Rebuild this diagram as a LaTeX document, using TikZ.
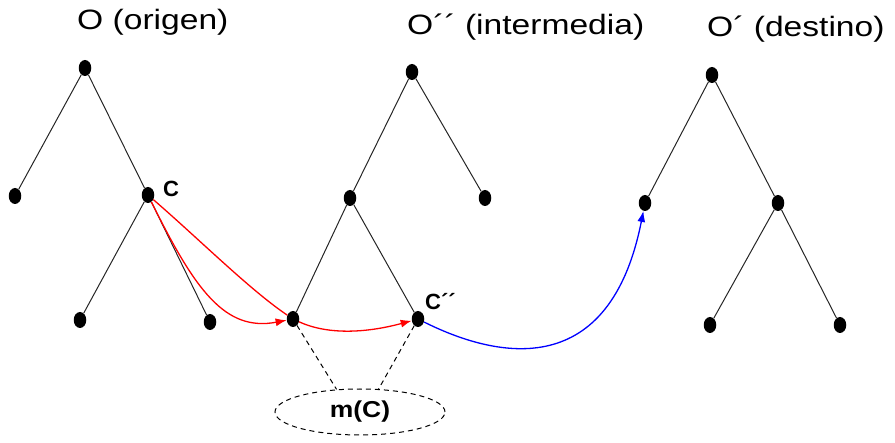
\documentclass[tikz,border=0pt]{standalone}
\usepackage{fontspec}
\setmainfont{Liberation Sans}
\usetikzlibrary{shapes.geometric,arrows.meta}
\begin{document}
\begin{tikzpicture}[x=1pt,y=-1pt,
 dot/.style={ellipse,fill=black,minimum width=12.5pt,minimum height=16pt,inner sep=0pt},
 treeline/.style={draw=black!85,line width=1pt},
 title/.style={anchor=base west,inner sep=0pt,font=\fontsize{28}{30}\selectfont},
 lbl/.style={anchor=base west,inner sep=0pt,font=\fontsize{22}{24}\selectfont\bfseries},
 redarr/.style={draw=red,line width=1.3pt,-{Latex[length=11pt,width=8pt]}},
 bluearr/.style={draw=blue,line width=1.3pt,-{Latex[length=11pt,width=8pt]}},
 dashline/.style={draw=black,line width=1pt,dash pattern=on 5pt off 4pt}
]
\useasboundingbox (0,0) rectangle (895,443);
% titles
\node[title] (t1) at (77,30) {\scalebox{1.2}[1]{O (origen)}};
\node[title] (t2) at (407,35) {\scalebox{1.2}[1]{O´´ (intermedia)}};
\node[title] (t3) at (707,37) {\scalebox{1.2}[1]{O´ (destino)}};
% tree 1
\node[dot] (a0) at (85,68) {};
\node[dot] (a1) at (15,196) {};
\node[dot] (c) at (148,195) {};
\node[dot] (a3) at (80,320) {};
\node[dot] (a4) at (210,322) {};
% tree 2
\node[dot] (b0) at (412,72) {};
\node[dot] (b1) at (350,198) {};
\node[dot] (b2) at (485,198) {};
\node[dot] (b3) at (293,319) {};
\node[dot] (cc) at (418,319) {};
% tree 3
\node[dot] (d0) at (712,75) {};
\node[dot] (d1) at (645,203) {};
\node[dot] (d2) at (778,203) {};
\node[dot] (d3) at (710,325) {};
\node[dot] (d4) at (840,325) {};
% labels
\node[lbl] (lc) at (163,197) {C};
\node[lbl] (lcc) at (425,310) {C´´};
% tree edges
\draw[treeline] (a0) -- (a1);
\draw[treeline] (a0) -- (c);
\draw[treeline] (c) -- (a3);
\draw[treeline] (c) -- (a4);
\draw[treeline] (b0) -- (b1);
\draw[treeline] (b0) -- (b2);
\draw[treeline] (b1) -- (b3);
\draw[treeline] (b1) -- (cc);
\draw[treeline] (d0) -- (d1);
\draw[treeline] (d0) -- (d2);
\draw[treeline] (d2) -- (d3);
\draw[treeline] (d2) -- (d4);
% m(C)
\node[ellipse,dashline,minimum width=170pt,minimum height=46pt,inner sep=0pt,
      font=\fontsize{23}{24}\selectfont\bfseries] (mc) at (360,412) {\scalebox{1.15}[1]{m(C)}};
\draw[dashline] (b3) -- (mc.136);
\draw[dashline] (cc) -- (mc.51);
% arrows
\draw[draw=red,line width=1.3pt] (c) .. controls (200,240) and (250,290) .. (b3);
\draw[redarr] (c) .. controls (195,290) and (225,332) .. (b3);
\draw[redarr] (b3) .. controls (330,336) and (370,332) .. (cc);
\draw[bluearr] (cc) .. controls (500,360) and (610,380) .. (d1);
\end{tikzpicture}
\end{document}
